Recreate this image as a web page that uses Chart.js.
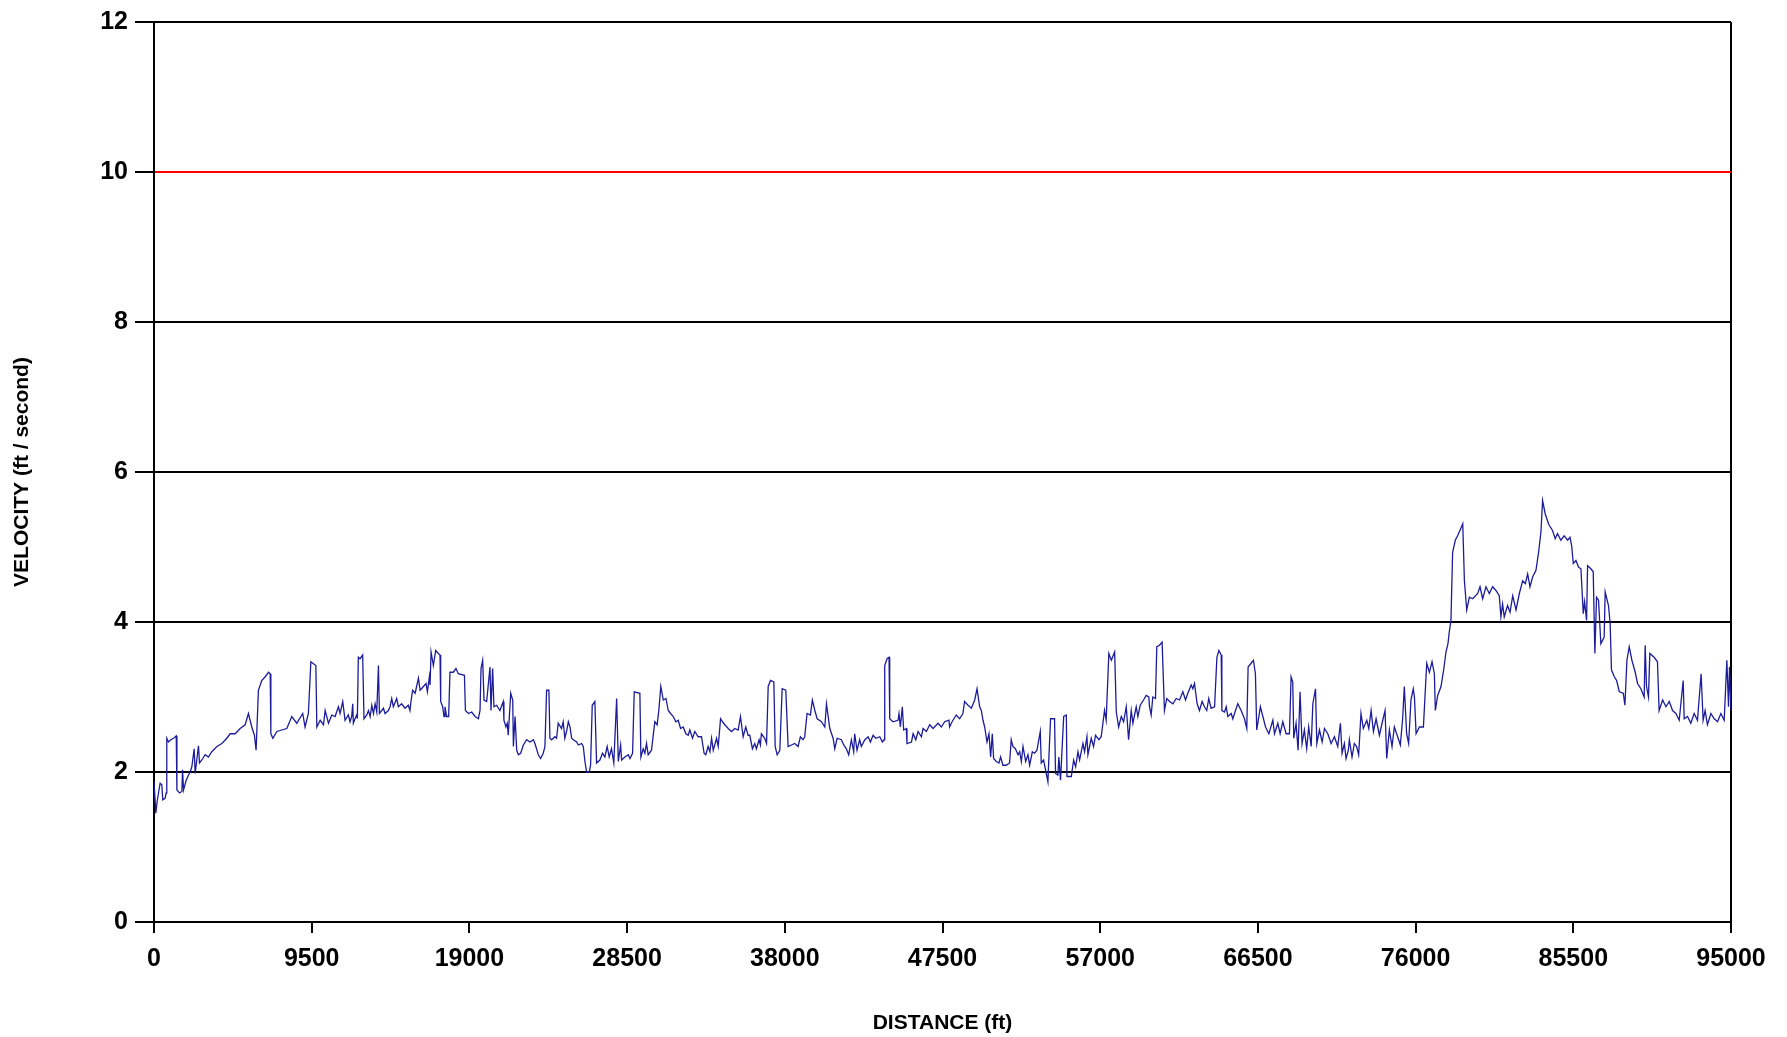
<!DOCTYPE html>
<html>
<head>
<meta charset="utf-8">
<title>Velocity vs distance</title>
<script src="https://cdn.jsdelivr.net/npm/chart.js@4.4.1/dist/chart.umd.min.js"></script>
<style>
  html, body { margin: 0; padding: 0; background: #fff; }
  #wrap { width: 1787px; height: 1037px; }
</style>
</head>
<body>
<div id="wrap"><canvas id="chart" width="1787" height="1037"></canvas></div>
<script>
// distance along the line (ft)
const distance = [
  0, 110, 190, 270, 370, 470, 530, 670, 730, 770,
  870, 1010, 1180, 1340, 1380, 1540, 1680, 1720, 1780, 1940,
  2080, 2180, 2280, 2420, 2480, 2680, 2740, 2880, 3080, 3280,
  3480, 3790, 4090, 4390, 4590, 4890, 5190, 5490, 5690, 5890,
  6050, 6150, 6290, 6490, 6700, 6900, 7000, 7040, 7160, 7400,
  7700, 8000, 8300, 8600, 8960, 9100, 9300, 9450, 9750, 9810,
  10010, 10210, 10310, 10510, 10710, 10910, 11110, 11210, 11370, 11510,
  11710,
  11810, 11910, 11970, 12010, 12110, 12210, 12250, 12310, 12410, 12570,
  12650, 12820, 12920, 13020, 13120, 13220, 13320, 13420, 13520, 13580,
  13720, 13820, 13920, 14120, 14220, 14320, 14420, 14620, 14720, 14920,
  15120, 15320, 15420, 15480, 15580, 15730, 15930, 16030, 16230, 16390,
  16470, 16590, 16630, 16690, 16830, 16970, 17130, 17230, 17270, 17390,
  17470, 17530, 17630, 17750, 17830, 18030, 18190, 18330, 18700, 18760,
  18940, 19140, 19340, 19540, 19640, 19700, 19800, 19880, 20040, 20240,
  20300, 20400, 20480, 20640, 20840, 21040, 21080, 21200, 21280, 21340,
  21490, 21610, 21650, 21750, 21850, 21950, 22090, 22250, 22450, 22650,
  22850, 22950, 23150, 23290, 23450, 23550, 23650, 23790,
  23850, 23950, 24150, 24250, 24350, 24550, 24650, 24750, 24850, 24960,
  25060, 25160, 25260, 25460, 25560, 25760, 25860, 25960, 26060, 26220,
  26300, 26400, 26560, 26660, 26860, 27020, 27160, 27300, 27420, 27560,
  27700, 27870, 27970, 28110, 28170, 28370, 28570, 28670, 28830, 28930,
  29270, 29330, 29470, 29570, 29670, 29770, 29970, 30170, 30310, 30410,
  30530, 30680, 30840, 30980, 31120, 31280, 31440, 31580, 31720, 31880,
  32040, 32180, 32280, 32440, 32580, 32780, 32980, 33140, 33240, 33380,
  33490, 33590, 33690, 33890, 33990, 34130, 34250, 34390, 34590, 34790,
  34990, 35190, 35330, 35490, 35650, 35790,
  35890, 36050, 36190, 36290, 36450, 36530, 36590, 36790, 36900, 37000,
  37140, 37340, 37420, 37540, 37700, 37840, 38060, 38200, 38400, 38600,
  38800, 38940, 39100, 39200, 39340, 39540, 39660, 39810, 39950, 40210,
  40410, 40510, 40710, 40910, 41010, 41150, 41410, 41550, 41710, 41850,
  42010, 42150, 42210, 42350, 42510, 42610, 42820, 43020, 43160, 43320,
  43480, 43720, 43880, 43980, 44020, 44160, 44280, 44320, 44520, 44820,
  44880, 44960, 45080, 45160, 45320, 45360, 45630, 45730, 45890, 46030,
  46230, 46330, 46530, 46730, 46930, 47230, 47430, 47630, 47890,
  47930, 48030, 48130, 48330, 48530, 48730, 48830, 49040, 49240, 49440,
  49580, 49740, 49840, 49940, 50040, 50180, 50300, 50400, 50500, 50580,
  50740, 50900, 51000, 51140, 51340, 51540, 51640, 51740, 51890, 52050,
  52150, 52250, 52350, 52510, 52650, 52750, 52910, 53050, 53190, 53390,
  53450, 53590, 53850, 53910, 54010, 54250, 54310, 54450, 54510, 54610,
  54800, 54960, 55000, 55260, 55400, 55520, 55660, 55760, 55960, 56060,
  56200, 56260, 56460, 56600, 56720, 56920, 57060, 57260, 57360, 57520,
  57670, 57870, 57970, 58110, 58270, 58410, 58570, 58710, 58870, 58970,
  59170, 59270, 59410, 59610, 59770, 59930,
  59970, 60070, 60170, 60330, 60410, 60570, 60730, 60770, 60870, 61010,
  61180, 61380, 61580, 61780, 61980, 62140, 62280, 62480, 62580, 62680,
  62840, 62980, 63140, 63280, 63420, 63540, 63680, 63890, 64030, 64150,
  64290, 64330, 64490, 64590, 64690, 64890, 64990, 65150, 65290, 65490,
  65690, 65830, 65910, 66090, 66230, 66350, 66430, 66650, 66800, 66960,
  67160, 67400, 67500, 67700, 67840, 68000, 68200, 68400, 68500, 68600,
  68660, 68800, 68920, 69040, 69160, 69300, 69440, 69560, 69710, 69810,
  69970, 70050, 70210, 70370, 70510, 70710, 70910, 71110, 71310, 71470,
  71570, 71710, 71810, 71950,
  72010, 72170, 72310, 72450, 72570, 72710, 72850, 73060, 73180, 73320,
  73460, 73620, 73820, 74020, 74160, 74260, 74420, 74580, 74720, 74920,
  75080, 75220, 75320, 75460, 75580, 75720, 75860, 75930, 76030, 76230,
  76470, 76670, 76830, 76990, 77130, 77190, 77330, 77530, 77690, 77830,
  77950, 78030, 78130, 78230, 78390, 78530, 78670, 78840, 78940, 79080,
  79240, 79440, 79740, 79880, 80040, 80240, 80440, 80640, 80840, 81040,
  81140, 81240, 81340, 81540, 81690, 81850, 82050, 82250, 82450, 82610,
  82750, 82890, 83050, 83250, 83410, 83550, 83650, 83810, 84010,
  84050, 84250, 84410, 84550, 84750, 84950, 85160, 85300, 85400, 85500,
  85660, 85820, 85960, 86100, 86180, 86300, 86360, 86560, 86700, 86800,
  86900, 87020, 87160, 87360, 87420, 87620, 87720, 87800, 87970, 88110,
  88270, 88510, 88610, 88730, 88870, 89030, 89230, 89370, 89570, 89770,
  89830, 89910, 90030, 90110, 90370, 90570, 90670, 90880, 91080, 91280,
  91480, 91680, 91880, 92120, 92180, 92380, 92580, 92780, 92980, 93200,
  93320, 93440, 93580, 93790, 93990, 94190, 94390, 94590, 94750, 94850,
  94910, 95000
];

// velocity (ft / second)
const velocity = [
  1.88, 1.45, 1.61, 1.72, 1.85, 1.83, 1.63, 1.65, 1.72, 2.45,
  2.40, 2.43, 2.45, 2.48, 1.76, 1.72, 1.74, 2.03, 1.76, 1.89,
  1.96, 2.00, 2.07, 2.31, 1.98, 2.35, 2.12, 2.16, 2.23, 2.20,
  2.27, 2.34, 2.38, 2.45, 2.51, 2.51, 2.58, 2.63, 2.78, 2.60,
  2.49, 2.29, 3.09, 3.22, 3.27, 3.33, 3.31, 2.51, 2.45, 2.54,
  2.56, 2.58, 2.74, 2.65, 2.78, 2.60, 2.78, 3.47, 3.42, 2.60,
  2.69, 2.63, 2.82, 2.65, 2.76, 2.74, 2.87, 2.78, 2.94, 2.69,
  2.76,
  2.67, 2.74, 2.91, 2.65, 2.71, 2.76, 2.71, 3.53, 3.51, 3.56,
  2.71, 2.76, 2.82, 2.74, 2.89, 2.78, 2.91, 2.80, 3.42, 2.78,
  2.82, 2.85, 2.78, 2.82, 2.87, 2.98, 2.87, 2.98, 2.87, 2.91,
  2.85, 2.89, 2.82, 2.94, 3.09, 3.05, 3.25, 3.09, 3.14, 3.18,
  3.07, 3.27, 3.16, 3.60, 3.42, 3.62, 3.58, 3.56, 2.94, 2.87,
  2.74, 2.87, 2.74, 2.74, 3.33, 3.33, 3.38, 3.31, 3.29, 2.82,
  2.78, 2.80, 2.74, 2.71, 2.82, 3.38, 3.49, 2.96, 2.94, 3.40,
  2.82, 3.38, 2.87, 2.89, 2.82, 2.94, 2.69, 2.60, 2.65, 2.49,
  3.05, 2.96, 2.34, 2.74, 2.29, 2.23, 2.25, 2.36, 2.43, 2.40,
  2.43, 2.38, 2.23, 2.18, 2.25, 2.34, 3.09, 3.09,
  2.45, 2.43, 2.47, 2.45, 2.65, 2.58, 2.67, 2.45, 2.54, 2.67,
  2.60, 2.45, 2.43, 2.40, 2.36, 2.38, 2.34, 2.14, 2.00, 2.00,
  2.09, 2.89, 2.94, 2.12, 2.16, 2.25, 2.20, 2.34, 2.20, 2.31,
  2.12, 2.98, 2.14, 2.36, 2.16, 2.20, 2.23, 2.18, 2.25, 3.07,
  3.05, 2.20, 2.31, 2.25, 2.38, 2.23, 2.29, 2.67, 2.63, 2.82,
  3.14, 2.96, 2.98, 2.82, 2.78, 2.74, 2.67, 2.69, 2.58, 2.60,
  2.51, 2.49, 2.56, 2.45, 2.54, 2.47, 2.47, 2.25, 2.23, 2.34,
  2.27, 2.45, 2.29, 2.45, 2.34, 2.71, 2.67, 2.63, 2.58, 2.54,
  2.58, 2.56, 2.74, 2.47, 2.60, 2.49,
  2.49, 2.31, 2.38, 2.31, 2.43, 2.36, 2.51, 2.45, 2.38, 3.14,
  3.22, 3.20, 2.34, 2.23, 2.29, 3.11, 3.09, 2.34, 2.36, 2.38,
  2.34, 2.47, 2.43, 2.47, 2.78, 2.76, 2.96, 2.82, 2.71, 2.67,
  2.60, 2.91, 2.58, 2.45, 2.31, 2.45, 2.43, 2.36, 2.31, 2.23,
  2.43, 2.27, 2.51, 2.29, 2.43, 2.34, 2.43, 2.47, 2.40, 2.49,
  2.45, 2.47, 2.40, 2.43, 3.42, 3.51, 3.53, 2.71, 2.67, 2.69,
  2.78, 2.60, 2.87, 2.56, 2.58, 2.38, 2.40, 2.51, 2.43, 2.54,
  2.47, 2.58, 2.54, 2.63, 2.58, 2.65, 2.60, 2.67, 2.69,
  2.60, 2.65, 2.69, 2.76, 2.71, 2.78, 2.94, 2.89, 2.85, 2.96,
  3.11, 2.87, 2.82, 2.69, 2.60, 2.40, 2.51, 2.20, 2.51, 2.18,
  2.14, 2.12, 2.20, 2.09, 2.09, 2.12, 2.43, 2.34, 2.31, 2.23,
  2.27, 2.14, 2.34, 2.14, 2.23, 2.09, 2.27, 2.25, 2.29, 2.54,
  2.12, 2.16, 1.87, 2.20, 2.71, 2.71, 1.98, 1.96, 2.20, 1.89,
  2.74, 2.76, 1.94, 1.94, 2.16, 2.07, 2.27, 2.16, 2.38, 2.27,
  2.47, 2.23, 2.45, 2.34, 2.49, 2.43, 2.47, 2.82, 2.69, 3.58,
  3.49, 3.60, 2.80, 2.60, 2.74, 2.67, 2.87, 2.43, 2.82, 2.65,
  2.87, 2.74, 2.89, 2.96, 3.02, 3.00,
  2.87, 2.76, 3.00, 2.98, 3.67, 3.69, 3.73, 3.73, 2.82, 2.98,
  2.94, 2.91, 2.98, 2.96, 3.07, 2.96, 3.05, 3.16, 3.11, 3.18,
  2.91, 2.82, 2.94, 2.87, 2.82, 2.98, 2.85, 2.87, 3.53, 3.62,
  3.56, 2.82, 2.80, 2.87, 2.74, 2.78, 2.71, 2.82, 2.91, 2.82,
  2.71, 2.58, 3.40, 3.45, 3.49, 3.31, 2.56, 2.87, 2.74, 2.60,
  2.51, 2.69, 2.51, 2.65, 2.51, 2.67, 2.51, 2.51, 3.27, 3.20,
  2.45, 2.65, 2.29, 3.07, 2.38, 2.56, 2.31, 2.60, 2.34, 2.91,
  3.11, 2.38, 2.56, 2.40, 2.58, 2.51, 2.38, 2.47, 2.34, 2.65,
  2.25, 2.38, 2.18, 2.29,
  2.43, 2.20, 2.38, 2.34, 2.23, 2.78, 2.58, 2.69, 2.58, 2.82,
  2.54, 2.71, 2.49, 2.69, 2.82, 2.18, 2.56, 2.34, 2.60, 2.47,
  2.36, 2.71, 3.14, 2.51, 2.38, 2.96, 3.11, 3.00, 2.51, 2.60,
  2.60, 3.45, 3.33, 3.47, 3.31, 2.82, 3.02, 3.14, 3.36, 3.60,
  3.71, 3.87, 4.02, 4.93, 5.09, 5.15, 5.22, 5.31, 4.55, 4.16,
  4.33, 4.31, 4.38, 4.47, 4.31, 4.47, 4.38, 4.47, 4.42, 4.35,
  4.07, 4.24, 4.07, 4.22, 4.13, 4.35, 4.16, 4.38, 4.55, 4.51,
  4.64, 4.47, 4.60, 4.69, 4.93, 5.20, 5.62, 5.44, 5.31,
  5.29, 5.22, 5.11, 5.18, 5.09, 5.15, 5.09, 5.13, 5.02, 4.78,
  4.82, 4.73, 4.71, 4.11, 4.27, 4.02, 4.75, 4.71, 4.67, 3.58,
  4.33, 4.29, 3.71, 3.80, 4.40, 4.22, 3.98, 3.36, 3.27, 3.22,
  3.07, 3.05, 2.89, 3.49, 3.67, 3.49, 3.33, 3.18, 3.11, 3.00,
  3.69, 3.14, 3.00, 3.58, 3.53, 3.47, 2.82, 2.96, 2.87, 2.94,
  2.82, 2.78, 2.69, 3.22, 2.71, 2.74, 2.65, 2.78, 2.69, 3.31,
  2.69, 2.82, 2.63, 2.78, 2.71, 2.67, 2.78, 2.69, 3.49, 2.87,
  3.40, 2.82
];

const limitVelocity = 10; // red reference line
const xMax = 95000;
const xStep = 9500;
const yMax = 12;
const yStep = 2;

const fontFamily = '"Liberation Sans", Arial, Helvetica, sans-serif';
const n = Math.min(distance.length, velocity.length);
const points = [];
for (let i = 0; i < n; i++) {
  points.push({ x: distance[i], y: velocity[i] });
}

const config = {
  type: 'line',
  data: {
    datasets: [
      {
        label: 'Velocity',
        data: points,
        borderColor: '#1c1c9a',
        borderWidth: 1.3,
        pointRadius: 0,
        fill: false,
        tension: 0,
      },
    ],
  },
  options: {
    responsive: false,
    animation: false,
    devicePixelRatio: 1,
    layout: {
      padding: { top: 20, right: 56, bottom: 0, left: 0 },
    },
    plugins: {
      legend: { display: false },
      tooltip: { enabled: false },
    },
    scales: {
      x: {
        type: 'linear',
        min: 0,
        max: xMax,
        ticks: {
          stepSize: xStep,
          autoSkip: false,
          maxRotation: 0,
          color: '#000',
          padding: 11,
          font: { family: fontFamily, size: 25, weight: 'bold' },
          callback: (value) => String(value),
        },
        grid: {
          color: (ctx) => (ctx.tick && ctx.tick.value === xMax ? '#000' : 'rgba(0,0,0,0)'),
          lineWidth: 2,
          tickColor: '#000',
          tickLength: 11,
          tickWidth: 2,
        },
        border: { display: true, color: '#000', width: 2 },
        title: {
          display: true,
          text: 'DISTANCE (ft)',
          color: '#000',
          font: { family: fontFamily, size: 21, weight: 'bold' },
          padding: { top: 0, bottom: 1 },
        },
        afterFit: (scale) => {
          scale.height = 115;
        },
      },
      y: {
        min: 0,
        max: yMax,
        ticks: {
          stepSize: yStep,
          color: '#000',
          padding: 7,
          font: { family: fontFamily, size: 25, weight: 'bold' },
        },
        grid: {
          color: (ctx) => (ctx.tick && ctx.tick.value === limitVelocity ? '#ff0000' : '#000'),
          lineWidth: 2,
          tickColor: '#000',
          tickLength: 19,
          tickWidth: 2,
        },
        border: { display: true, color: '#000', width: 2 },
        title: {
          display: true,
          text: 'VELOCITY (ft / second)',
          color: '#000',
          font: { family: fontFamily, size: 21, weight: 'bold' },
          padding: { top: 10, bottom: 0 },
        },
        afterFit: (scale) => {
          scale.width = 154;
        },
      },
    },
  },
};

new Chart(document.getElementById('chart'), config);
</script>
</body>
</html>
